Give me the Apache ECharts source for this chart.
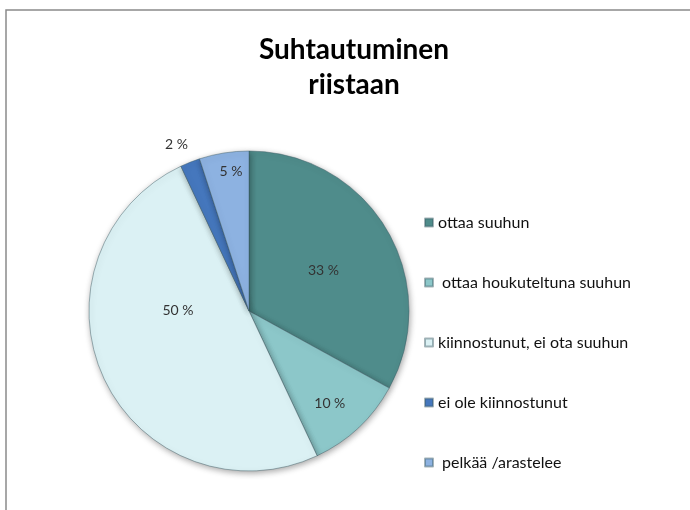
<!DOCTYPE html>
<html>
<head>
<meta charset="utf-8">
<script src="https://cdn.jsdelivr.net/npm/echarts@6/dist/echarts.min.js"></script>
<style>
  html, body { margin: 0; padding: 0; background: #fff; }
  #main { width: 690px; height: 510px; }
</style>
</head>
<body>
<div id="main"></div>
<script>
// data
var categories = [
  'ottaa suuhun',
  ' ottaa houkuteltuna suuhun',
  'kiinnostunut, ei ota suuhun',
  'ei ole kiinnostunut',
  ' pelkää /arastelee'
]
var shares = [33, 10, 50, 2, 5]
var sliceColors = ['#4f8c8b', '#8cc7c9', '#dbf1f4', '#4577bd', '#8db2e1']
// nudges for the percent labels (Excel "best fit" placement)
var labelNudge = [[3, 2], [24, 32], [4, -36], [-42, -89], [-5, -58]]

var myChart = echarts.init(document.getElementById('main'))

var pieData = shares.map(function (v, i) {
  return {
    name: categories[i],
    value: v,
    itemStyle: { color: sliceColors[i] }
  }
})

var option = {
  backgroundColor: '#ffffff',
  animation: false,
  title: {
    text: 'Suhtautuminen\nriistaan',
    left: 354,
    top: 32,
    textAlign: 'center',
    padding: 0,
    textStyle: {
      fontFamily: 'Lato',
      fontWeight: 'bold',
      fontSize: 28,
      lineHeight: 35,
      color: '#000'
    }
  },
  legend: {
    orient: 'vertical',
    left: 419,
    top: 209,
    itemGap: 43,
    itemWidth: 8,
    itemHeight: 8,
    icon: 'rect',
    textStyle: {
      fontFamily: 'Lato',
      fontSize: 16,
      lineHeight: 17,
      color: '#111'
    },
    data: categories
  },
  graphic: [{
    type: 'rect',
    shape: { x: 6, y: 10, width: 720, height: 540 },
    style: { fill: 'none', stroke: '#8a8a8a', lineWidth: 1.5 },
    silent: true,
    z: -1
  }],
  series: [{
    type: 'pie',
    center: [249, 311],
    radius: 160,
    startAngle: 90,
    clockwise: true,
    data: pieData,
    itemStyle: {
      borderColor: 'rgba(60,90,100,0.45)',
      borderWidth: 1,
      shadowBlur: 6,
      shadowOffsetX: 1,
      shadowOffsetY: 2,
      shadowColor: 'rgba(0,0,0,0.35)'
    },
    label: {
      position: 'inside',
      fontFamily: 'Lato',
      fontSize: 14,
      color: '#333',
      formatter: function (p) { return p.value + ' %' }
    },
    labelLine: { show: false },
    labelLayout: function (p) {
      var n = labelNudge[p.dataIndex]
      return { dx: n[0], dy: n[1], hideOverlap: false }
    },
    emphasis: { disabled: true }
  }]
}

myChart.setOption(option)
</script>
</body>
</html>
